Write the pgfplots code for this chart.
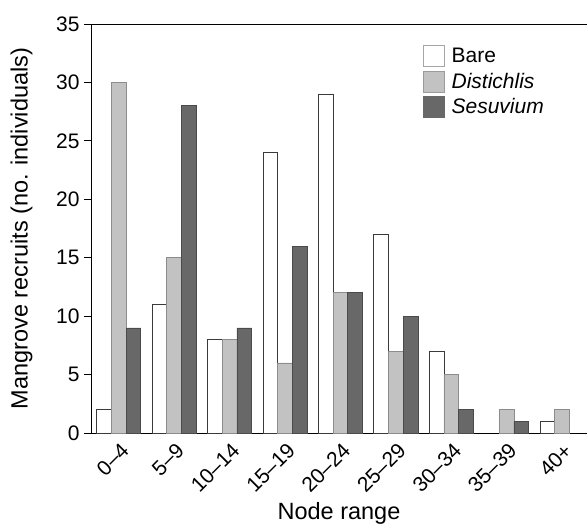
\documentclass[border=0pt]{standalone}
\usepackage{fontspec}
\setmainfont{Liberation Sans}
\usepackage{pgfplots}
\pgfplotsset{compat=1.18}
\definecolor{bareedge}{HTML}{3A3A3A}
\definecolor{distfill}{HTML}{C2C2C2}
\definecolor{distedge}{HTML}{8C8C8C}
\definecolor{sesufill}{HTML}{686868}
\definecolor{sesuedge}{HTML}{4A4A4A}
\begin{document}
\begin{tikzpicture}
\useasboundingbox (-91pt,-91pt) rectangle (496pt,433pt);
\begin{axis}[
  at={(0pt,0pt)}, anchor=south west,
  width=496pt, height=409pt, scale only axis,
  ybar=0pt, bar width=14.7pt,
  xmin=-0.5, xmax=8.45, ymin=0, ymax=35,
  axis lines*=left,
  axis line style={line width=0.9pt, black},
  tick style={line width=0.9pt, black},
  tick align=outside,
  major tick length=7pt,
  ytick={0,5,...,35},
  xtick={0,...,8},
  xticklabels={0--4,5--9,10--14,15--19,20--24,25--29,30--34,35--39,40+},
  x tick style={draw=none},
  extra x ticks={-0.5,0.5,...,7.5},
  extra x tick labels={},
  extra x tick style={tick style={line width=0.9pt, black}, major tick length=8pt},
  /pgf/number format/assume math mode=true,
  ticklabel style={font=\fontsize{21}{24}\selectfont},
  yticklabel style={xshift=-1pt},
  xticklabel style={xshift=1pt, yshift=3pt, rotate=45, anchor=north east},
  xlabel={Node range},
  ylabel={Mangrove recruits (no. individuals)},
  label style={font=\fontsize{23.5}{27}\selectfont},
  xlabel style={at={(axis description cs:0.5,-0.161)}, anchor=north},
  ylabel style={at={(axis description cs:-0.14,0.5)}, anchor=center},
  legend style={draw=none, fill=none, at={(rel axis cs:0.669,0.949)}, anchor=north west,
    font=\fontsize{21}{24}\selectfont, row sep=4pt, inner sep=0pt,
    /tikz/every odd column/.append style={column sep=5pt}},
  legend cell align=left,
  clip=false,
]
\addplot[fill=white, draw=bareedge, line width=0.6pt,
  legend image code/.code={\draw[fill=white, draw=gray!70, line width=0.6pt] (0pt,-10.5pt) rectangle (21pt,10.5pt);}]
  coordinates {(0,2) (1,11) (2,8) (3,24) (4,29) (5,17) (6,7) (8,1)};
\addplot[fill=distfill, draw=distedge, line width=0.6pt,
  legend image code/.code={\draw[fill=distfill, draw=distfill!80!black, line width=0.6pt] (0pt,-10.5pt) rectangle (21pt,10.5pt);}]
  coordinates {(0,30) (1,15) (2,8) (3,6) (4,12) (5,7) (6,5) (7,2) (8,2)};
\addplot[fill=sesufill, draw=sesuedge, line width=0.6pt,
  legend image code/.code={\draw[fill=sesufill, draw=sesufill, line width=0.6pt] (0pt,-10.5pt) rectangle (21pt,10.5pt);}]
  coordinates {(0,9) (1,28) (2,9) (3,16) (4,12) (5,10) (6,2) (7,1)};
\legend{Bare,\textit{Distichlis},\textit{Sesuvium}}
\draw[line width=0.9pt, black] (rel axis cs:0,1) -- (rel axis cs:1,1);
\end{axis}
\end{tikzpicture}
\end{document}
